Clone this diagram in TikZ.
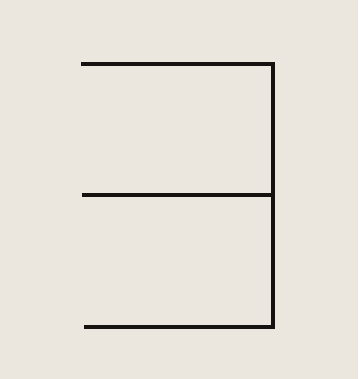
\documentclass[tikz,border=0pt]{standalone}
\definecolor{paper}{RGB}{236,231,222}
\definecolor{ink}{RGB}{22,18,16}
\begin{document}
\begin{tikzpicture}[x=1pt,y=-1pt,bar/.style={draw=ink,line width=3.6pt}]
\fill[paper] (0,0) rectangle (358,379);
\useasboundingbox (0,0) rectangle (358,379);
\coordinate (t1) at (81,64);
\coordinate (t2) at (273,64);
\coordinate (m1) at (82,195);
\coordinate (m2) at (273,195);
\coordinate (b1) at (84,327);
\coordinate (b2) at (273,327);
\draw[bar,line join=miter] (t1) -- ([xshift=1.8pt]t2) ;
\draw[bar] (t2) ++(0,-1.8pt) -- ([yshift=1.8pt]b2);
\draw[bar] (m1) -- (m2);
\draw[bar] (b1) -- ([xshift=1.8pt]b2);
\end{tikzpicture}
\end{document}
